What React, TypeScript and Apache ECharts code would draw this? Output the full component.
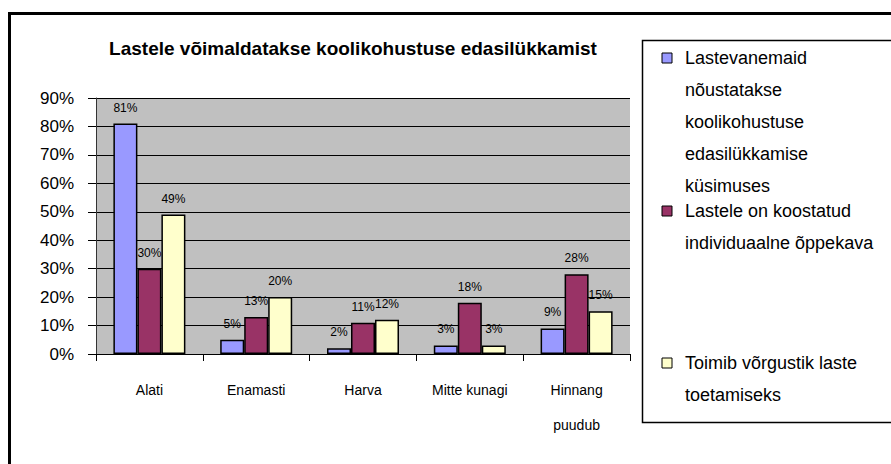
import React, { useEffect, useRef } from "react";
import * as echarts from "echarts";

const title = "Lastele võimaldatakse koolikohustuse edasilükkamist";
const categories = ["Alati", "Enamasti", "Harva", "Mitte kunagi", "Hinnang\npuudub"];
const seriesNames = [
  "Lastevanemaid nõustatakse koolikohustuse edasilükkamise küsimuses",
  "Lastele on koostatud individuaalne õppekava",
  "Toimib võrgustik laste toetamiseks",
];
const legendLabels = [
  "Lastevanemaid\nnõustatakse\nkoolikohustuse\nedasilükkamise\nküsimuses",
  "Lastele on koostatud\nindividuaalne õppekava",
  "Toimib võrgustik laste\ntoetamiseks",
];
const parentsCounselled = [81, 5, 2, 3, 9];
const individualPlan = [30, 13, 11, 18, 28];
const networkSupport = [49, 20, 12, 3, 15];
const seriesColors = ["#9999FF", "#993366", "#FFFFCC"];

const FONT = "'Liberation Sans', Arial, sans-serif";

export default function App() {
  const ref = useRef<HTMLDivElement>(null);
  useEffect(() => {
    if (!ref.current) return;
    const chart = echarts.init(ref.current, null, { renderer: "svg" });
    const values = [parentsCounselled, individualPlan, networkSupport];
    const legendTops = [42, 195, 347];
    const legendGraphics: any[] = [];
    legendLabels.forEach((txt, i) => {
      legendGraphics.push({
        type: "rect",
        shape: { x: 662, y: legendTops[i] + 11, width: 10, height: 10 },
        style: { fill: seriesColors[i], stroke: "#000", lineWidth: 1 },
      });
      legendGraphics.push({
        type: "text",
        x: 685,
        y: legendTops[i],
        style: {
          text: txt,
          font: `18px ${FONT}`,
          lineHeight: 32,
          fill: "#000",
          verticalAlign: "top",
          align: "left",
        },
      });
    });
    chart.setOption({
      animation: false,
      backgroundColor: "#fff",
      title: {
        text: title,
        left: 348,
        top: 34,
        textAlign: "center",
        textStyle: { fontFamily: FONT, fontSize: 19, fontWeight: "bold", color: "#000" },
      },
      grid: {
        left: 96,
        top: 98,
        width: 534,
        height: 256,
        show: true,
        backgroundColor: "#C0C0C0",
        borderWidth: 0,
      },
      xAxis: {
        type: "category",
        data: categories,
        axisLine: { show: true, lineStyle: { color: "#000", width: 1 } },
        axisTick: { show: true, length: 7, lineStyle: { color: "#000" } },
        axisLabel: {
          fontFamily: FONT,
          fontSize: 14,
          color: "#000",
          lineHeight: 35,
          margin: 18,
          interval: 0,
        },
      },
      yAxis: {
        type: "value",
        min: 0,
        max: 90,
        interval: 10,
        axisLine: { show: true, lineStyle: { color: "#333", width: 1 } },
        axisTick: { show: true, length: 8, lineStyle: { color: "#000" } },
        axisLabel: {
          formatter: "{value}%",
          fontFamily: FONT,
          fontSize: 17,
          color: "#000",
          margin: 22,
        },
        splitLine: { show: true, lineStyle: { color: "#000", width: 1 } },
      },
      series: values.map((v, i) => ({
        type: "bar",
        name: seriesNames[i],
        data: v,
        barWidth: 24,
        barGap: "0%",
        itemStyle: { color: seriesColors[i], borderColor: "#000", borderWidth: 1.5 },
        label: {
          show: true,
          position: "top",
          distance: 10,
          formatter: "{c}%",
          fontFamily: FONT,
          fontSize: 12,
          color: "#000",
        },
      })),
      graphic: [
        {
          type: "rect",
          shape: { x: 9.5, y: 13.5, width: 900, height: 470 },
          style: { fill: "none", stroke: "#000", lineWidth: 3 },
          silent: true,
        },
        {
          type: "rect",
          shape: { x: 642.5, y: 40.5, width: 260, height: 382 },
          style: { fill: "#fff", stroke: "#000", lineWidth: 1.5 },
          silent: true,
        },
        ...legendGraphics,
      ],
    });
    return () => chart.dispose();
  }, []);
  return (
    <div
      ref={ref}
      style={{ position: "fixed", left: 0, top: 0, width: 891, height: 464 }}
    />
  );
}
